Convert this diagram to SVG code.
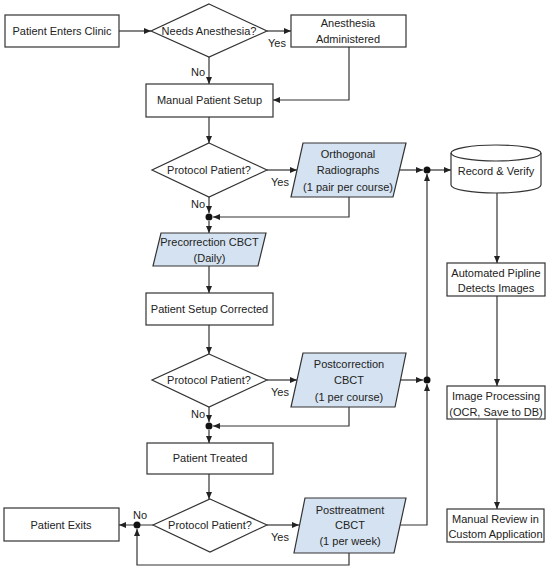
<svg xmlns="http://www.w3.org/2000/svg" width="550" height="571" viewBox="0 0 550 571">
<defs>
<marker id="ah" markerUnits="userSpaceOnUse" markerWidth="8" markerHeight="8" refX="7" refY="3" orient="auto">
<path d="M0,0 L7,3 L0,6 z" fill="#222"/>
</marker>
<style>
.box{fill:#fff;stroke:#333;stroke-width:1.2}
.io{fill:#d5e2f1;stroke:#333;stroke-width:1.2}
.c{fill:none;stroke:#333;stroke-width:1.2;marker-end:url(#ah)}
.l{fill:none;stroke:#333;stroke-width:1.2}
text{font-family:"Liberation Sans",Arial,sans-serif;font-size:11px;fill:#222;text-anchor:middle}
.dot{fill:#111}
</style>
</defs>
<rect width="550" height="571" fill="#fff"/>
<g id="connectors">
<path class="c" d="M119,31 H151"/>
<path class="c" d="M267,31 H291"/>
<path class="c" d="M209,57 V84"/>
<path class="c" d="M349,47 V100 H273"/>
<path class="c" d="M209,117 V143"/>
<path class="c" d="M267,170 H297"/>
<path class="c" d="M400,170 H423"/>
<path class="c" d="M427,170 H451"/>
<path class="c" d="M209,197 V213"/>
<path class="c" d="M349,197 V217 H213"/>
<path class="c" d="M209,221 V233"/>
<path class="c" d="M209,266 V293"/>
<path class="c" d="M209,325 V354"/>
<path class="c" d="M267,380 H297"/>
<path class="c" d="M401,380 H423"/>
<path class="c" d="M427,380 V174"/>
<path class="c" d="M209,407 V422"/>
<path class="c" d="M349,407 V426 H213"/>
<path class="c" d="M209,430 V443"/>
<path class="c" d="M209,474 V499"/>
<path class="c" d="M153,525 H119"/>
<path class="c" d="M349,552 V565 H137 V529"/>
<path class="c" d="M267,525 H299"/>
<path class="c" d="M400,525 H427 V384"/>
<path class="c" d="M497,193 V263"/>
<path class="c" d="M497,296 V386"/>
<path class="c" d="M497,419 V509"/>
<circle class="dot" cx="209" cy="217" r="3.5"/>
<circle class="dot" cx="427" cy="170" r="3.5"/>
<circle class="dot" cx="427" cy="380" r="3.5"/>
<circle class="dot" cx="209" cy="426" r="3.5"/>
<circle class="dot" cx="137" cy="525" r="3.5"/>
<text x="277" y="47">Yes</text>
<text x="198" y="76">No</text>
<text x="280" y="186">Yes</text>
<text x="198" y="208">No</text>
<text x="280" y="396">Yes</text>
<text x="198" y="418">No</text>
<text x="140" y="519">No</text>
<text x="280" y="541">Yes</text>
</g>
<g id="enter">
<rect class="box" x="5" y="15" width="114" height="32"/>
<text x="62" y="35">Patient Enters Clinic</text>
</g>
<g id="needsAnesthesia">
<polygon class="box" points="209,4 267,31 209,57 151,31"/>
<text x="209" y="35">Needs Anesthesia?</text>
</g>
<g id="anesthesia">
<rect class="box" x="291" y="15" width="115" height="32"/>
<text x="348" y="27">Anesthesia</text>
<text x="348" y="43">Administered</text>
</g>
<g id="manualSetup">
<rect class="box" x="146" y="84" width="127" height="33"/>
<text x="209.5" y="104">Manual Patient Setup</text>
</g>
<g id="protocol1">
<polygon class="box" points="209,143 267,170 209,197 152,170"/>
<text x="209" y="174">Protocol Patient?</text>
</g>
<g id="ortho">
<polygon class="io" points="303,143 406,143 393,197 291,197"/>
<text x="348" y="158">Orthogonal</text>
<text x="348" y="174">Radiographs</text>
<text x="348" y="191">(1 pair per course)</text>
</g>
<g id="record">
<path class="box" d="M451,153 A45,8 0 0,1 541,153 V185 A45,8 0 0,1 451,185 Z"/>
<path class="l" d="M451,153 A45,8 0 0,0 541,153"/>
<text x="496" y="175">Record &amp; Verify</text>
</g>
<g id="precorrection">
<polygon class="io" points="161,233 266,233 258,266 153,266"/>
<text x="209.5" y="246">Precorrection CBCT</text>
<text x="209.5" y="262">(Daily)</text>
</g>
<g id="pipeline">
<rect class="box" x="447" y="263" width="98" height="33"/>
<text x="496" y="277">Automated Pipline</text>
<text x="496" y="292">Detects Images</text>
</g>
<g id="setupCorrected">
<rect class="box" x="146" y="293" width="127" height="32"/>
<text x="209.5" y="313">Patient Setup Corrected</text>
</g>
<g id="protocol2">
<polygon class="box" points="209,354 267,380 209,407 152,380"/>
<text x="209" y="384">Protocol Patient?</text>
</g>
<g id="postcorrection">
<polygon class="io" points="303,353 406,353 395,407 291,407"/>
<text x="349" y="368">Postcorrection</text>
<text x="349" y="384">CBCT</text>
<text x="349" y="401">(1 per course)</text>
</g>
<g id="imageProcessing">
<rect class="box" x="447" y="386" width="98" height="33"/>
<text x="496" y="400">Image Processing</text>
<text x="496" y="416">(OCR, Save to DB)</text>
</g>
<g id="treated">
<rect class="box" x="147" y="443" width="126" height="31"/>
<text x="210" y="462">Patient Treated</text>
</g>
<g id="protocol3">
<polygon class="box" points="210,499 267,525 210,552 153,525"/>
<text x="210" y="529">Protocol Patient?</text>
</g>
<g id="exits">
<rect class="box" x="4" y="508" width="115" height="33"/>
<text x="61" y="529">Patient Exits</text>
</g>
<g id="posttreatment">
<polygon class="io" points="305,498 406,498 394,553 294,553"/>
<text x="350" y="514">Posttreatment</text>
<text x="350" y="529">CBCT</text>
<text x="350" y="545">(1 per week)</text>
</g>
<g id="manualReview">
<rect class="box" x="447" y="509" width="97" height="33"/>
<text x="495.5" y="523">Manual Review in</text>
<text x="495.5" y="538">Custom Application</text>
</g>
</svg>
